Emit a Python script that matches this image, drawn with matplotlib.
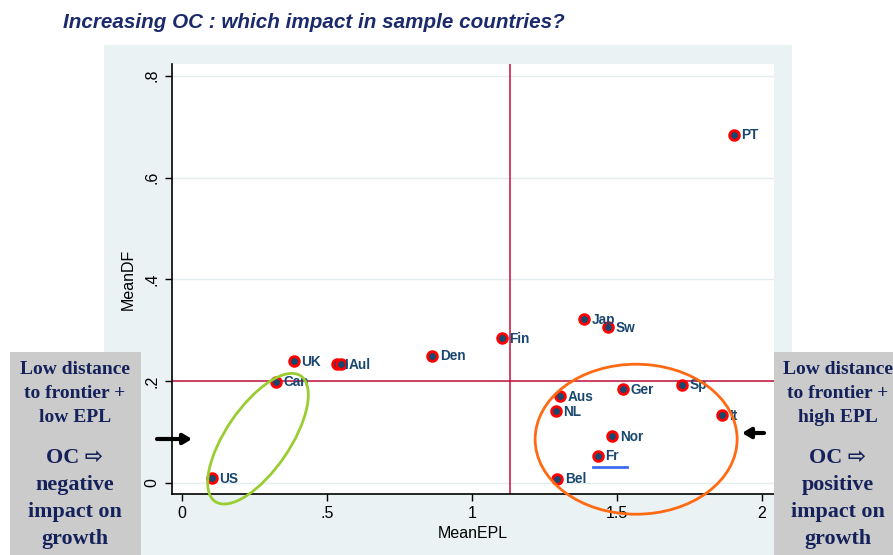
import matplotlib
matplotlib.use("Agg")
import matplotlib.pyplot as plt
from matplotlib.patches import Rectangle, Ellipse
import matplotlib.transforms as mtransforms

# ---------------- data ----------------
countries = ["US", "Can", "UK", "I", "Aul", "Den", "Fin", "Jap", "Sw", "Ger",
             "Sp", "Aus", "NL", "It", "Nor", "Fr", "Bel", "PT"]
mean_epl = [0.103, 0.323, 0.386, 0.533, 0.548, 0.863, 1.102, 1.387, 1.469, 1.520,
            1.725, 1.305, 1.289, 1.861, 1.484, 1.433, 1.294, 1.903]
mean_df = [0.010, 0.199, 0.240, 0.233, 0.233, 0.250, 0.285, 0.322, 0.306, 0.185,
           0.193, 0.171, 0.141, 0.133, 0.092, 0.054, 0.0085, 0.684]
x_ticks = [0, 0.5, 1, 1.5, 2]
x_tick_labels = ["0", ".5", "1", "1.5", "2"]
y_ticks = [0, 0.2, 0.4, 0.6, 0.8]
y_tick_labels = ["0", ".2", ".4", ".6", ".8"]
vline_x = 1.131
hline_y = 0.2
title = "Increasing OC : which impact in sample countries?"
left_box_top = ["Low distance", "to frontier +", "low EPL"]
left_box_bottom = ["OC \u21e8", "negative", "impact on", "growth"]
right_box_top = ["Low distance", "to frontier +", "high EPL"]
right_box_bottom = ["OC \u21e8", "positive", "impact on", "growth"]

W, H = 893, 555
fig = plt.figure(figsize=(W / 100, H / 100), dpi=100)
fig.patch.set_facecolor("white")

def fx(px):
    return px / W

def fy(py):
    return (H - py) / H

# graph region background
fig.patches.append(Rectangle((fx(104), 0), (792 - 104) / W, (H - 45) / H,
                             transform=fig.transFigure, facecolor="#EAF2F3",
                             edgecolor="none", zorder=-5))

ax = fig.add_axes([fx(172), fy(494), 602 / W, 430 / H])
ax.set_zorder(1)
ax.set_facecolor("white")
ax.set_xlim(-0.0345, 2.0414)
ax.set_ylim(-0.0216, 0.823)
for s in ["top", "right"]:
    ax.spines[s].set_visible(False)
for s in ["left", "bottom"]:
    ax.spines[s].set_color("black")
    ax.spines[s].set_linewidth(1.2)

ax.set_xticks(x_ticks)
ax.set_xticklabels(x_tick_labels, fontsize=11.5, family="Liberation Sans")
ax.set_yticks(y_ticks)
ax.set_yticklabels(y_tick_labels, fontsize=11.5, family="Liberation Sans",
                   rotation=90, va="center")
ax.tick_params(axis="both", length=5, width=1, color="black", pad=4)
for yv in y_ticks:
    ax.axhline(yv, color="#E3EDEF", lw=1.0, zorder=0.5)

ax.set_xlabel("MeanEPL", fontsize=11.5, family="Liberation Sans", labelpad=3)
ax.set_ylabel("MeanDF", fontsize=11.5, family="Liberation Sans", labelpad=6)

# reference lines
ax.axvline(vline_x, color="#C4103C", lw=1.1, zorder=1)
ax.axhline(hline_y, color="#C4103C", lw=1.1, zorder=1)

# points
ax.plot(mean_epl, mean_df, ls="none", marker="o", markersize=7,
        markerfacecolor="#1A476F", markeredgecolor="#FF0000",
        markeredgewidth=2.0, zorder=3)
for x, y, lab in zip(mean_epl, mean_df, countries):
    ax.annotate(lab, (x, y), xytext=(5.5, -0.5), textcoords="offset points",
                fontsize=9.8, fontweight="bold", color="#1A476F",
                family="Liberation Sans", va="center", ha="left", zorder=4)

# ellipses (sizes in inches, centered on data points)
green_tr = fig.dpi_scale_trans + mtransforms.ScaledTranslation(0.262, 0.087, ax.transData)
ax.add_patch(Ellipse((0, 0), 1.52, 0.64, angle=55.7, transform=green_tr,
                     fill=False, edgecolor="#9ACD32", lw=2.0, zorder=5, clip_on=False))
orange_tr = fig.dpi_scale_trans + mtransforms.ScaledTranslation(1.566, 0.086, ax.transData)
ax.add_patch(Ellipse((0, 0), 2.02, 1.50, angle=0, transform=orange_tr,
                     fill=False, edgecolor="#FF6A13", lw=2.0, zorder=5, clip_on=False))

# blue underline under Fr
ax.plot([1.417, 1.534], [0.032, 0.032], color="#3C6CF0", lw=2.0, zorder=4)

# title
fig.text(fx(63), fy(22), title, fontsize=14.9, fontweight="bold", fontstyle="italic",
         color="#1B2A6B", family="Liberation Sans", va="center", ha="left")

# gray boxes (drawn in a top overlay axes so they sit above the plot)
over = fig.add_axes([0, 0, 1, 1], facecolor="none")
over.set_zorder(5)
over.set_xlim(0, W)
over.set_ylim(H, 0)
over.axis("off")
navy = "#14215A"
over.add_patch(Rectangle((10, 352), 131, 203, facecolor="#CBCBCB", edgecolor="none"))
over.add_patch(Rectangle((774, 352), 119, 203, facecolor="#CBCBCB", edgecolor="none"))
top_y = [370, 394, 418]
bot_y = [458, 485, 512, 539]
for lines, cx in [((left_box_top, left_box_bottom), 75), ((right_box_top, right_box_bottom), 838)]:
    for txt, yy in zip(lines[0], top_y):
        over.text(cx, yy, txt, fontsize=14, fontweight="bold",
                  family="Liberation Serif", color=navy, ha="center", va="center")
    for txt, yy in zip(lines[1], bot_y):
        over.text(cx, yy, txt, fontsize=15.8, fontweight="bold",
                  family=["Liberation Serif", "DejaVu Sans"], color=navy,
                  ha="center", va="center")

# arrows
over.annotate("", xy=(192, 439), xytext=(157, 439),
              arrowprops=dict(arrowstyle="-|>,head_length=0.5,head_width=0.3",
                              color="black", lw=3, shrinkA=0, shrinkB=0))
over.annotate("", xy=(742, 433), xytext=(764, 433),
              arrowprops=dict(arrowstyle="-|>,head_length=0.5,head_width=0.3",
                              color="black", lw=3, shrinkA=0, shrinkB=0))

fig.savefig("out.png", dpi=100)
